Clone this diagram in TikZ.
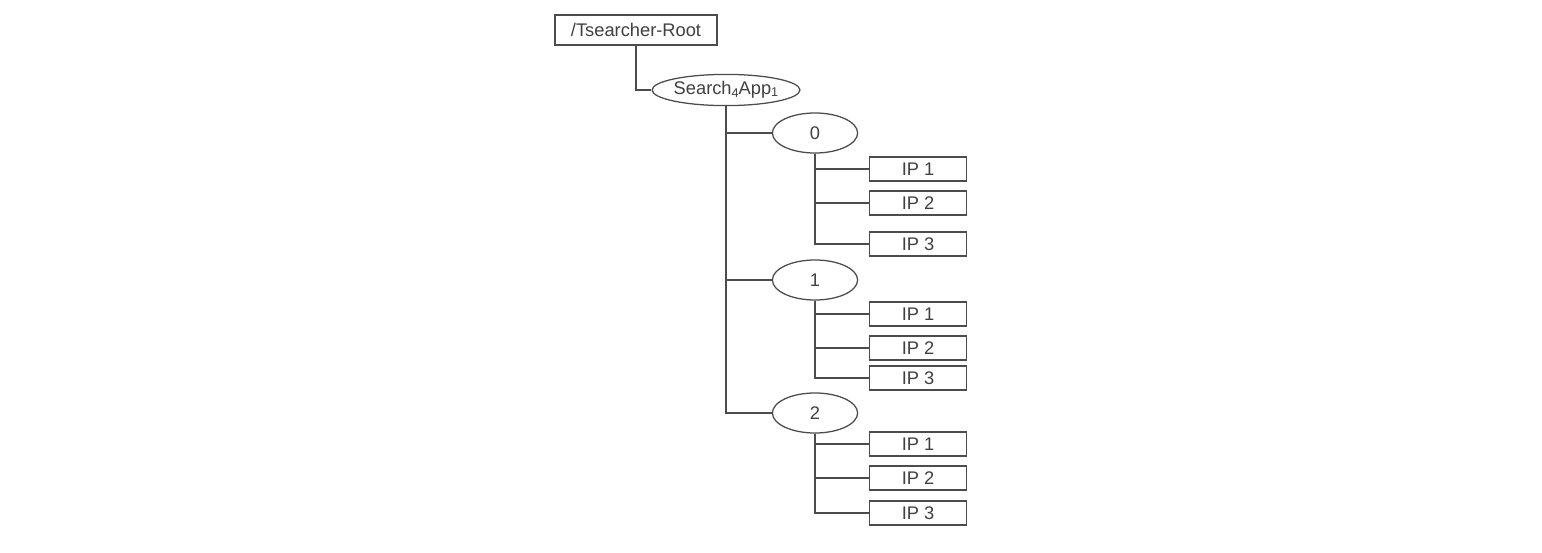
\documentclass[tikz,border=0pt]{standalone}
\usepackage{fontspec}
\setmainfont{Liberation Sans}
\usetikzlibrary{shapes.geometric}

\begin{document}
\begin{tikzpicture}[x=0.025cm, y=-0.025cm,
	every node/.style={font=\fontsize{13}{15}\selectfont, text=black!75},
	dirbox/.style={draw=black!70, line width=0.9pt, inner sep=0pt},
	znode/.style={ellipse, draw=black!70, line width=0.9pt, inner sep=0pt},
	link/.style={draw=black!70, line width=0.9pt}]
	% page
	\fill[white] (0,0) rectangle (1542,552);
	\useasboundingbox (0,0) rectangle (1542,552);
	% root and application node
	\node[dirbox, minimum width=4.05cm, minimum height=0.75cm] (root) at (636,30) {/Tsearcher-Root};
	\node[znode, minimum width=3.55cm, minimum height=0.78cm] (app) at (726,90) {Search\raisebox{-0.3ex}{\small 4}App\raisebox{-0.2ex}{\small 1}};
	\draw[link] (root.south) |- (app.west);
	% sequence nodes with their ip children
	\foreach \g/\gy/\ya/\yb/\yc in {0/133/169/203/244, 1/280/314/348/378, 2/413/444/478/513} {
		\node[znode, minimum width=2.13cm, minimum height=1.0cm] (g\g) at (815,\gy) {\g};
		\draw[link] (app.south) |- (g\g.west);
		\node[dirbox, minimum width=2.43cm, minimum height=0.6cm] (ip\g a) at (918,\ya) {IP 1};
		\node[dirbox, minimum width=2.43cm, minimum height=0.6cm] (ip\g b) at (918,\yb) {IP 2};
		\node[dirbox, minimum width=2.43cm, minimum height=0.6cm] (ip\g c) at (918,\yc) {IP 3};
		\draw[link] (g\g.south) |- (ip\g a.west);
		\draw[link] (g\g.south) |- (ip\g b.west);
		\draw[link] (g\g.south) |- (ip\g c.west);
	}
\end{tikzpicture}
\end{document}
